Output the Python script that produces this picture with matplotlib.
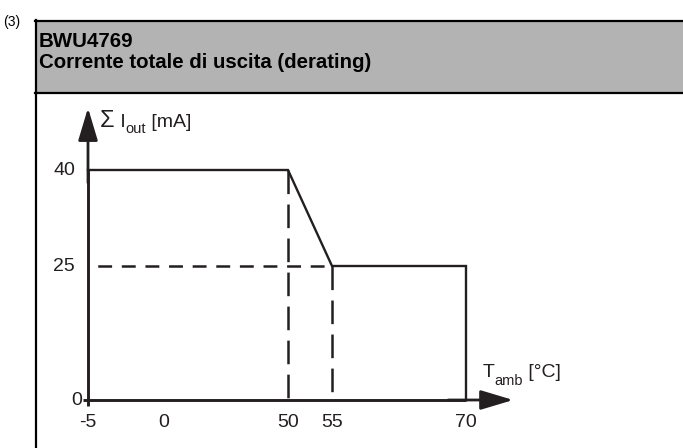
import numpy as np
import matplotlib
matplotlib.use("Agg")
import matplotlib.pyplot as plt
from matplotlib.patches import Rectangle, FancyArrowPatch
from matplotlib.lines import Line2D

plt.rcParams["font.family"] = ["Liberation Sans", "DejaVu Sans"]
plt.rcParams["lines.scale_dashes"] = False

# derating curve
temp = [-5, 50, 55, 70, 70]
current = [40, 40, 25, 25, 0]
x_ticks = [-5, 0, 50, 55, 70]
y_ticks = [0, 25, 40]
knee_x = [50, 55]
knee_y = [40, 25]

# the drawing is schematic, so axes are piecewise (data -> pixel)
xk = [-30, -5, 0, 50, 55, 70, 130]
xp = [-292, 88, 164, 288, 332, 466, 1000]
yk = [-50, 0, 25, 40, 100]
yp = [-220, 48, 182, 278, 658]

W, H = 683, 448
ink = "#231f20"


def xf(v):
    return np.interp(v, xk, xp)


def xi(v):
    return np.interp(v, xp, xk)


def yf(v):
    return np.interp(v, yk, yp)


def yi(v):
    return np.interp(v, yp, yk)


fig = plt.figure(figsize=(W / 100, H / 100), dpi=100)
ax = fig.add_axes([0, 0, 1, 1])
ax.set_xscale("function", functions=(xf, xi))
ax.set_yscale("function", functions=(yf, yi))
ax.set_xlim(xi(0), xi(W))
ax.set_ylim(yi(0), yi(H))
ax.axis("off")


def px(x, y):
    return x / W, 1 - y / H


# frame + grey header
fig.add_artist(Rectangle(px(35, 93), (W - 35) / W, 72 / H, transform=fig.transFigure,
                         facecolor="#b3b3b3", edgecolor="none"))
for (x0, y0), (x1, y1) in [((35, 21), (W, 21)), ((35, 93), (W, 93)), ((36, 20), (36, H))]:
    a, b = px(x0, y0)
    c, d = px(x1, y1)
    fig.add_artist(Line2D([a, c], [b, d], transform=fig.transFigure, color="black", lw=1.6))

fig.text(*px(3, 26), "(3)", fontsize=10, va="baseline")
fig.text(*px(39, 47), "BWU4769", fontsize=14.8, fontweight="bold", va="baseline")
fig.text(*px(39, 68), "Corrente totale di uscita (derating)", fontsize=14.7,
         fontweight="bold", va="baseline")

# axes with arrows
x_end, y_end = 75.3, 49.8
ax.plot([-5.3, 70], [0, 0], color=ink, lw=2.1, solid_capstyle="butt")
ax.plot([-5, -5], [-1.1, 40], color=ink, lw=2.1, solid_capstyle="butt")
ax.add_patch(FancyArrowPatch((68, 0), (x_end, 0), arrowstyle="-|>,head_length=2.0,head_width=0.6",
                             mutation_scale=10, color=ink, lw=2, shrinkA=0, shrinkB=0))
ax.add_patch(FancyArrowPatch((-5, 38), (-5, y_end), arrowstyle="-|>,head_length=2.0,head_width=0.6",
                             mutation_scale=10, color=ink, lw=2, shrinkA=0, shrinkB=0))

# dashed guides
ax.plot([-5, knee_x[1]], [knee_y[1], knee_y[1]], color=ink, lw=1.8, linestyle=(10, (10, 7)))
for xv, yv in zip(knee_x, knee_y):
    ax.plot([xv, xv], [yv, 0], color=ink, lw=1.8, linestyle=(0, (17, 7.5)))

# curve
ax.plot(temp, current, color=ink, lw=1.7, solid_joinstyle="miter")

# tick labels
for t in x_ticks:
    ax.text(t, -4.2, str(t), fontsize=14, ha="center", va="center", color=ink)
for t in y_ticks:
    ax.text(-5.85 if t else -5.4, t, str(t), fontsize=14, ha="right", va="center", color=ink)

# axis titles with real subscripts, written piece by piece
renderer = fig.canvas.get_renderer()


def rich(x, y, parts):
    ox = 0
    for s, size, dy in parts:
        t = ax.annotate(s, (x, y), xytext=(ox, dy), textcoords="offset points",
                        fontsize=size, ha="left", va="baseline", color=ink)
        ox += t.get_window_extent(renderer).width * 72 / fig.dpi


rich(-4.2, 46.8, [("Σ", 17, 0), (" I", 14, 0), ("out", 10.5, -4.5), (" [mA]", 14, 0)])
rich(71.9, 4.3, [("T", 14, 0), ("amb", 10.5, -5.5), (" [°C]", 14, 0)])

fig.savefig("out.png", dpi=100)
